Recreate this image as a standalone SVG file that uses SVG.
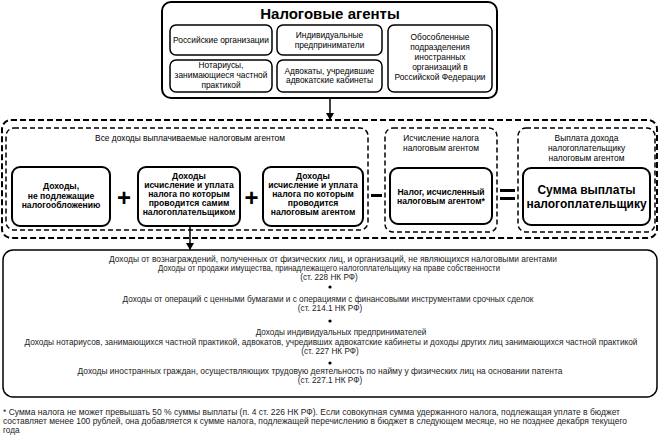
<svg xmlns="http://www.w3.org/2000/svg" width="660" height="441" viewBox="0 0 660 441">
<defs>
<marker id="arr" markerWidth="8" markerHeight="8" refX="6" refY="4" orient="auto" markerUnits="userSpaceOnUse">
<path d="M0,0 L7,4 L0,8 Z" fill="#000"/>
</marker>
<style>
text{font-family:"Liberation Sans",Arial,sans-serif;fill:#000;text-anchor:middle;}
.box{fill:#fff;stroke:#000;stroke-width:2;}
.ibox{fill:#fff;stroke:#000;stroke-width:1.5;}
.dash{fill:none;stroke:#000;stroke-width:2;stroke-dasharray:6 3;}
.dash2{fill:none;stroke:#000;stroke-width:1.5;stroke-dasharray:5 3;}
.sm{font-size:8.4px;}
.b{font-size:8.6px;font-weight:bold;}
.op{font-size:24px;font-weight:bold;}
.note{font-size:8.2px;fill:#222;}
.line{stroke:#000;stroke-width:1.5;fill:none;}
</style>
</defs>

<g id="agents">
<rect class="box" x="162" y="2" width="335" height="96" rx="9"/>
<text x="330" y="19" style="font-size:15px;font-weight:bold">Налоговые агенты</text>
</g>
<g id="rus-org">
<rect class="ibox" x="170" y="25" width="102" height="30" rx="6"/>
<text class="sm" x="221" y="43">Российские организации</text>
</g>
<g id="ip">
<rect class="ibox" x="277" y="25" width="105" height="30" rx="6"/>
<text class="sm" x="329.5" y="38">Индивидуальные</text>
<text class="sm" x="329.5" y="48">предприниматели</text>
</g>
<g id="notary">
<rect class="ibox" x="170" y="60" width="102" height="32" rx="6"/>
<text class="sm" x="221" y="68">Нотариусы,</text>
<text class="sm" x="221" y="78">занимающиеся частной</text>
<text class="sm" x="221" y="88">практикой</text>
</g>
<g id="lawyers">
<rect class="ibox" x="277" y="60" width="105" height="32" rx="6"/>
<text class="sm" x="329.5" y="74">Адвокаты, учредившие</text>
<text class="sm" x="329.5" y="83">адвокатские кабинеты</text>
</g>
<g id="foreign">
<rect class="ibox" x="388" y="25" width="104" height="67" rx="6"/>
<text class="sm" x="440" y="40">Обособленные</text>
<text class="sm" x="440" y="50">подразделения</text>
<text class="sm" x="440" y="60">иностранных</text>
<text class="sm" x="440" y="70">организаций в</text>
<text class="sm" x="440" y="80">Российской Федерации</text>
</g>

<g id="formula">
<rect class="dash" x="2" y="120" width="655" height="118" rx="9"/>
</g>
<g id="all-income">
<rect class="dash2" x="6" y="128" width="362" height="102" rx="8"/>
<text class="sm" x="190" y="141">Все доходы выплачиваемые налоговым агентом</text>
</g>
<g id="non-taxable">
<rect class="box" x="12" y="167" width="98" height="59" rx="8"/>
<text class="b" x="61" y="189">Доходы,</text>
<text class="b" x="61" y="199">не подлежащие</text>
<text class="b" x="61" y="208">налогообложению</text>
</g>
<g id="self-paid">
<rect class="box" x="138" y="167" width="102" height="59" rx="8"/>
<text class="b" x="189" y="179">Доходы</text>
<text class="b" x="189" y="188">исчисление и уплата</text>
<text class="b" x="189" y="197">налога по которым</text>
<text class="b" x="189" y="206">проводится самим</text>
<text class="b" x="189" y="215">налогоплательщиком</text>
</g>
<g id="agent-paid">
<rect class="box" x="263" y="167" width="100" height="59" rx="8"/>
<text class="b" x="313" y="179">Доходы</text>
<text class="b" x="313" y="188">исчисление и уплата</text>
<text class="b" x="313" y="197">налога по которым</text>
<text class="b" x="313" y="206">проводится</text>
<text class="b" x="313" y="215">налоговым агентом</text>
</g>
<g id="calc-group">
<rect class="dash2" x="385" y="128" width="112" height="104" rx="8"/>
<text class="sm" x="441" y="141">Исчисление налога</text>
<text class="sm" x="441" y="151">налоговым агентом</text>
</g>
<g id="tax">
<rect class="box" x="390" y="168" width="102" height="56" rx="8"/>
<text class="b" x="441" y="195">Налог, исчисленный</text>
<text class="b" x="441" y="204">налоговым агентом*</text>
</g>
<g id="pay-group">
<rect class="dash2" x="518" y="128" width="137" height="104" rx="8"/>
<text class="sm" x="586.5" y="141">Выплата дохода</text>
<text class="sm" x="586.5" y="151">налогоплательщику</text>
<text class="sm" x="586.5" y="161">налоговым агентом</text>
</g>
<g id="payout">
<rect class="box" x="523" y="168" width="127" height="57" rx="8"/>
<text x="586.5" y="194" style="font-size:12px;font-weight:bold">Сумма выплаты</text>
<text x="586.5" y="208" style="font-size:12px;font-weight:bold">налогоплательщику</text>
</g>
<g id="operators">
<text class="op" x="124" y="206">+</text>
<text class="op" x="251.5" y="206">+</text>
<rect x="371" y="194" width="11" height="3" fill="#000"/>
<rect x="500" y="189" width="15" height="3" fill="#000"/>
<rect x="500" y="197" width="15" height="3" fill="#000"/>
</g>

<g id="connectors">
<line class="line" x1="330" y1="98" x2="330" y2="119" marker-end="url(#arr)"/>
<line class="line" x1="190" y1="226" x2="190" y2="249" marker-end="url(#arr)"/>
</g>

<g id="list">
<rect class="ibox" x="3" y="250" width="654" height="147" rx="10"/>
<text class="note" x="333" y="262" textLength="448" lengthAdjust="spacingAndGlyphs">Доходы от вознаграждений, полученных от физических лиц, и организаций, не являющихся налоговыми агентами</text>
<text class="note" x="329" y="271" textLength="342" lengthAdjust="spacingAndGlyphs">Доходы от продажи имущества, принадлежащего налогоплательщику на праве собственности</text>
<text class="note" x="329" y="280">(ст. 228 НК РФ)</text>
<circle cx="330" cy="287" r="1.6" fill="#000"/>
<text class="note" x="328" y="302" textLength="411" lengthAdjust="spacingAndGlyphs">Доходы от операций с ценными бумагами и с операциями с финансовыми инструментами срочных сделок</text>
<text class="note" x="330" y="311">(ст. 214.1 НК РФ)</text>
<circle cx="330" cy="321" r="1.6" fill="#000"/>
<text class="note" x="341" y="335">Доходы индивидуальных предпринимателей</text>
<text class="note" x="331" y="345" textLength="613" lengthAdjust="spacingAndGlyphs">Доходы нотариусов, занимающихся частной практикой, адвокатов, учредивших адвокатские кабинеты и доходы других лиц занимающихся частной практикой</text>
<text class="note" x="330" y="354">(ст. 227 НК РФ)</text>
<circle cx="330" cy="363" r="1.6" fill="#000"/>
<text class="note" x="320" y="374" textLength="485" lengthAdjust="spacingAndGlyphs">Доходы иностранных граждан, осуществляющих трудовую деятельность по найму у физических лиц на основании патента</text>
<text class="note" x="330" y="383">(ст. 227.1 НК РФ)</text>
</g>

<g id="footnote">
<text class="note" x="3" y="415" style="text-anchor:start" textLength="617" lengthAdjust="spacingAndGlyphs">* Сумма налога не может превышать 50 % суммы выплаты (п. 4 ст. 226 НК РФ). Если совокупная сумма удержанного налога, подлежащая уплате в бюджет</text>
<text class="note" x="3" y="424" style="text-anchor:start" textLength="624" lengthAdjust="spacingAndGlyphs">составляет менее 100 рублей, она добавляется к сумме налога, подлежащей перечислению в бюджет в следующем месяце, но не позднее декабря текущего</text>
<text class="note" x="3" y="433" style="text-anchor:start">года</text>
</g>
</svg>
